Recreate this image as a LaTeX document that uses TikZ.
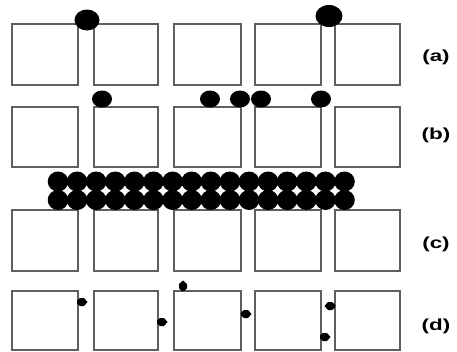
\documentclass[tikz,border=0pt]{standalone}
\usepackage{fontspec}
\setmainfont{Liberation Sans}
\begin{document}
\begin{tikzpicture}[x=1pt,y=-1pt,
  cell/.style={draw={rgb,255:red,95;green,95;blue,95},line width=1.8pt},
  bigdot/.style={fill=black},
  tag/.style={font=\fontsize{16}{16}\selectfont\bfseries,inner sep=0pt,anchor=center}]
\useasboundingbox[fill=white] (0,0) rectangle (457,351);
% boxes
\foreach \t/\b in {24/85,107/167,210/271,291/350}{
  \foreach \l/\r in {12/78,94/158,174/241,255/321,335/400}{
    \draw[cell] (\l,\t) rectangle (\r,\b);
  }
}
% row (a) dots
\fill[bigdot] (87,20) ellipse [x radius=12.5,y radius=10.5];
\fill[bigdot] (329,16) ellipse [x radius=13.5,y radius=11];
% row (b) dots
\foreach \x in {102,210,240,261,321}{
  \fill[bigdot] (\x,99) ellipse [x radius=10,y radius=8.5];
}
% row (c) dot layer
\foreach \i in {0,...,15}{
  \fill[bigdot] ({58+\i*19.1},181.5) ellipse [x radius=10.3,y radius=10];
  \fill[bigdot] ({58+\i*19.1},200) ellipse [x radius=10.3,y radius=10];
}
% row (d) small markers
\foreach \x/\y/\a in {82/302/0,162/322/0,183/286/-90,246/314/0,330/306/180,325/337/0}{
  \fill[rotate around={-\a:(\x,\y)}] (\x-5,\y-1.5) -- (\x-2,\y-4) -- (\x+2,\y-4) -- (\x+5.5,\y) -- (\x+2,\y+4) -- (\x-2,\y+4) -- (\x-5,\y+1.5) -- cycle;
}
% labels
\node[tag] (la) at (436,57) {\scalebox{1.4}[1]{(a)}};
\node[tag] (lb) at (436,135) {\scalebox{1.4}[1]{(b)}};
\node[tag] (lc) at (436,244) {\scalebox{1.4}[1]{(c)}};
\node[tag] (ld) at (436,326) {\scalebox{1.4}[1]{(d)}};
\end{tikzpicture}
\end{document}
